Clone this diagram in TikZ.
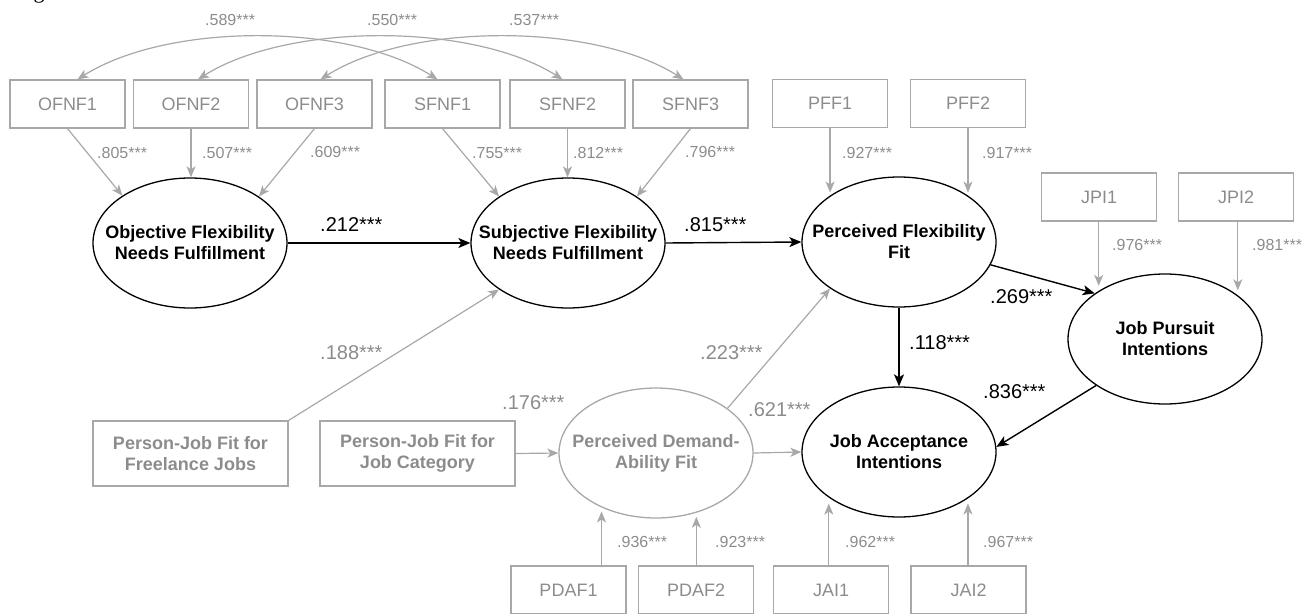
\documentclass[tikz,border=0pt]{standalone}
\usepackage{fontspec}
\setmainfont{Liberation Sans}
\newfontfamily\capfont{Liberation Serif}
\usetikzlibrary{shapes.geometric,arrows.meta}
\definecolor{lg}{RGB}{168,168,168}
\definecolor{tg}{RGB}{140,140,140}
\begin{document}
\begin{tikzpicture}[x=1pt,y=-1pt,
 obs/.style={draw=lg, line width=1.2pt, minimum width=115pt, minimum height=48pt, inner sep=0pt, text=tg, font=\fontsize{18}{21}\selectfont},
 obsbig/.style={obs, minimum width=195pt, minimum height=65pt, font=\fontsize{18}{21}\selectfont\bfseries, align=center},
 lat/.style={ellipse, draw=black, line width=1.3pt, minimum width=194pt, minimum height=130pt, inner xsep=-30pt, inner ysep=0pt, align=center, font=\fontsize{18}{21}\selectfont\bfseries},
 latg/.style={lat, draw=lg, text=tg},
 ga/.style={draw=lg, line width=1.2pt, -{Stealth[length=11pt,width=9pt,inset=3pt]}},
 gcov/.style={draw=lg, line width=1.2pt, {Stealth[length=11pt,width=9pt,inset=3pt]}-{Stealth[length=11pt,width=9pt,inset=3pt]}},
 ba/.style={draw=black, line width=1.4pt, -{Stealth[length=12pt,width=10pt,inset=3pt]}},
 sl/.style={anchor=west, text=tg, font=\fontsize{16}{18}\selectfont, inner sep=0pt},
 bl/.style={anchor=west, text=black, font=\fontsize{20}{22}\selectfont, inner sep=0pt},
 glb/.style={bl, text=tg},
]
\useasboundingbox (0,0) rectangle (1316,613);
\node[font=\capfont\fontsize{22}{24}\selectfont, anchor=base, inner sep=0pt] (gcap) at (39,-1.5) {g};

% observed indicators
\node[obs] (ofnf1) at (67.5,104) {OFNF1};
\node[obs] (ofnf2) at (191,104) {OFNF2};
\node[obs] (ofnf3) at (314.5,104) {OFNF3};
\node[obs] (sfnf1) at (442.5,104) {SFNF1};
\node[obs] (sfnf2) at (567.5,104) {SFNF2};
\node[obs] (sfnf3) at (690.5,104) {SFNF3};
\node[obs] (pff1) at (830,103.5) {PFF1};
\node[obs] (pff2) at (968,103.5) {PFF2};
\node[obs] (jpi1) at (1099,197) {JPI1};
\node[obs] (jpi2) at (1236,197) {JPI2};
\node[obsbig] (pfjf) at (190.5,453.5) {Person-Job Fit for\\Freelance Jobs};
\node[obsbig] (pfjc) at (417.5,453.5) {Person-Job Fit for\\Job Category};
\node[obs] (pdaf1) at (568.5,590) {PDAF1};
\node[obs] (pdaf2) at (696,590) {PDAF2};
\node[obs] (jai1) at (831,590) {JAI1};
\node[obs] (jai2) at (968.5,590) {JAI2};

% latent variables
\node[lat] (oL) at (190,243) {Objective Flexibility\\Needs Fulfillment};
\node[lat] (sL) at (568,243) {Subjective Flexibility\\Needs Fulfillment};
\node[lat] (pF) at (899,242) {Perceived Flexibility\\Fit};
\node[lat] (jP) at (1165,339) {Job Pursuit\\Intentions};
\node[lat] (jA) at (899,452) {Job Acceptance\\Intentions};
\node[latg] (pD) at (656,453) {Perceived Demand-\\Ability Fit};

% covariances
\draw[gcov] ([xshift=10pt]ofnf1.north) .. controls +(90,-57) and +(-90,-57) .. ([xshift=-5pt]sfnf1.north);
\draw[gcov] ([xshift=7pt]ofnf2.north) .. controls +(90,-57) and +(-90,-57) .. ([xshift=-5pt]sfnf2.north);
\draw[gcov] ([xshift=6pt]ofnf3.north) .. controls +(90,-57) and +(-90,-57) .. ([xshift=-7pt]sfnf3.north);

% loadings
\draw[ga] (ofnf1.south) -- (oL.145);
\draw[ga] (ofnf2.south) -- (ofnf2.south |- oL.north);
\draw[ga] (ofnf3.south) -- (oL.34);
\draw[ga] (sfnf1.south) -- (sL.146);
\draw[ga] (sfnf2.south) -- (sfnf2.south |- sL.north);
\draw[ga] (sfnf3.south) -- (sL.34);
\draw[ga, shorten >=3pt] (pF.146 |- pff1.south) -- (pF.146);
\draw[ga, shorten >=3pt] (pF.34 |- pff2.south) -- (pF.34);
\draw[ga, shorten >=5pt] (jP.144 |- jpi1.south) -- (jP.144);
\draw[ga, shorten >=5pt] (jP.31 |- jpi2.south) -- (jP.31);
\draw[ga, shorten >=4pt] (pD.225 |- pdaf1.north) -- (pD.225);
\draw[ga, shorten >=4pt] (pD.304 |- pdaf2.north) -- (pD.304);
\draw[ga, shorten >=6pt] (jA.213.5 |- jai1.north) -- (jA.213.5);
\draw[ga, shorten >=5pt] (jA.326 |- jai2.north) -- (jA.326);

% structural paths
\draw[ba] (oL.east) -- (sL.west);
\draw[ba] (sL.east) -- (pF.west);
\draw[ba] (pF.-14) -- (jP.147);
\draw[ba] (pF.south) -- (jA.north);
\draw[ba] (jP.214) -- (jA.3);
\draw[ga] (pfjf.north east) -- (sL.214);
\draw[ga] (pfjc.east) -- (pD.west);
\draw[ga] (pD.32) -- (pF.214);
\draw[ga] (pD.east) -- (jA.west);

% coefficient labels
\node[sl] (l589) at (205,20) {.589***};
\node[sl] (l550) at (367,20) {.550***};
\node[sl] (l537) at (509,20) {.537***};
\node[sl] (l805) at (97,153) {.805***};
\node[sl] (l507) at (202,153) {.507***};
\node[sl] (l609) at (310,152) {.609***};
\node[sl] (l755) at (472,153) {.755***};
\node[sl] (l812) at (573,153) {.812***};
\node[sl] (l796) at (685,152) {.796***};
\node[sl] (l927) at (842,153) {.927***};
\node[sl] (l917) at (982,153) {.917***};
\node[sl] (l976) at (1112,245) {.976***};
\node[sl] (l981) at (1252,245) {.981***};
\node[sl] (l936) at (617,542) {.936***};
\node[sl] (l923) at (715,542) {.923***};
\node[sl] (l962) at (845,542) {.962***};
\node[sl] (l967) at (983,542) {.967***};
\node[bl] (l212) at (320,225) {.212***};
\node[bl] (l815) at (684,225) {.815***};
\node[bl] (l269) at (990,297) {.269***};
\node[bl] (l118) at (909,343) {.118***};
\node[bl] (l836) at (983,392) {.836***};
\node[glb] (l188) at (320,353) {.188***};
\node[glb] (l223) at (700,353) {.223***};
\node[glb] (l176) at (502,403) {.176***};
\node[glb] (l621) at (748,410) {.621***};
\end{tikzpicture}
\end{document}
